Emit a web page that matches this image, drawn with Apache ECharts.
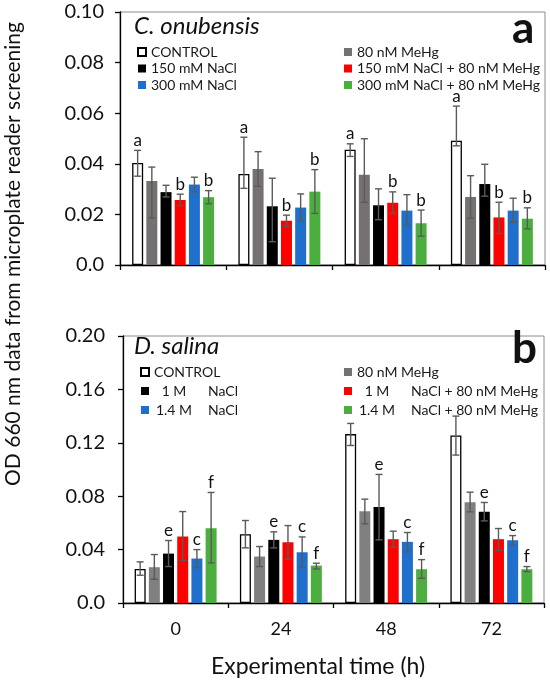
<!DOCTYPE html>
<html>
<head>
<meta charset="utf-8">
<script src="https://cdn.jsdelivr.net/npm/echarts@6/dist/echarts.min.js"></script>
<style>
html,body{margin:0;padding:0;background:#fff;}
#chart{width:550px;height:682px;}
</style>
</head>
<body>
<div id="chart"></div>
<script>
// ---------- DATA ----------
const categories = ['0', '24', '48', '72'];

// Panel a: C. onubensis
const topNames = ['CONTROL', '80 nM MeHg', '150 mM NaCl', '150 mM NaCl + 80 nM MeHg', '300 mM NaCl', '300 mM NaCl + 80 nM MeHg'];
const topControl   = [0.0403, 0.0360, 0.0456, 0.0491];
const topMeHg      = [0.0332, 0.0379, 0.0357, 0.0269];
const topNa150     = [0.0288, 0.0232, 0.0236, 0.0320];
const topNa150MeHg = [0.0257, 0.0175, 0.0246, 0.0188];
const topNa300     = [0.0318, 0.0227, 0.0215, 0.0215];
const topNa300MeHg = [0.0268, 0.0290, 0.0165, 0.0183];
const topControlHi   = [0.0453, 0.0505, 0.0479, 0.0628];
const topMeHgHi      = [0.0387, 0.0448, 0.0499, 0.0353];
const topNa150Hi     = [0.0315, 0.0343, 0.0301, 0.0398];
const topNa150MeHgHi = [0.0280, 0.0197, 0.0289, 0.0248];
const topNa300Hi     = [0.0347, 0.0281, 0.0278, 0.0264];
const topNa300MeHgHi = [0.0294, 0.0377, 0.0217, 0.0226];
const topControlLo   = [0.0351, 0.0303, 0.0429, 0.0471];
const topMeHgLo      = [0.0186, 0.0311, 0.0248, 0.0185];
const topNa150Lo     = [0.0269, 0.0092, 0.0179, 0.0272];
const topNa150MeHgLo = [0.0235, 0.0152, 0.0204, 0.0125];
const topNa300Lo     = [0.0289, 0.0173, 0.0156, 0.0169];
const topNa300MeHgLo = [0.0242, 0.0204, 0.0114, 0.0143];
const topLetters = ['a', '', '', 'b', '', 'b'];
const topTicks = [0, 0.02, 0.04, 0.06, 0.08, 0.10];

// Panel b: D. salina
const botNames = ['CONTROL', '80 nM MeHg', '1 M NaCl', '1 M NaCl + 80 nM MeHg', '1.4 M NaCl', '1.4 M NaCl + 80 nM MeHg'];
const botControl    = [0.0255, 0.0515, 0.1265, 0.1255];
const botMeHg       = [0.0268, 0.0348, 0.0688, 0.0755];
const botNa1        = [0.0370, 0.0473, 0.0720, 0.0683];
const botNa1MeHg    = [0.0498, 0.0455, 0.0478, 0.0478];
const botNa14       = [0.0333, 0.0380, 0.0458, 0.0470];
const botNa14MeHg   = [0.0560, 0.0280, 0.0253, 0.0253];
const botControlHi  = [0.0308, 0.0618, 0.1345, 0.1400];
const botMeHgHi     = [0.0363, 0.0423, 0.0778, 0.0830];
const botNa1Hi      = [0.0468, 0.0533, 0.0963, 0.0753];
const botNa1MeHgHi  = [0.0685, 0.0580, 0.0538, 0.0558];
const botNa14Hi     = [0.0400, 0.0495, 0.0528, 0.0505];
const botNa14MeHgHi = [0.0828, 0.0298, 0.0325, 0.0273];
const botControlLo  = [0.0208, 0.0413, 0.1180, 0.1108];
const botMeHgLo     = [0.0178, 0.0273, 0.0593, 0.0683];
const botNa1Lo      = [0.0273, 0.0413, 0.0473, 0.0615];
const botNa1MeHgLo  = [0.0318, 0.0328, 0.0418, 0.0395];
const botNa14Lo     = [0.0265, 0.0268, 0.0383, 0.0433];
const botNa14MeHgLo = [0.0300, 0.0255, 0.0185, 0.0235];
const botLetters = ['', '', 'e', '', 'c', 'f'];
const botTicks = [0, 0.04, 0.08, 0.12, 0.16, 0.20];

// ---------- STYLE ----------
const FONT = 'Lato';
const BAR_W = 11;
const BAR_GAP = 0.29;
const topColors = ['#ffffff', '#767171', '#000000', '#ff0000', '#1f6fcc', '#4cae3f'];
const botColors = ['#ffffff', '#808080', '#000000', '#ff0000', '#1f6fcc', '#4cae3f'];

const topMeans = [topControl, topMeHg, topNa150, topNa150MeHg, topNa300, topNa300MeHg];
const topHis = [topControlHi, topMeHgHi, topNa150Hi, topNa150MeHgHi, topNa300Hi, topNa300MeHgHi];
const topLos = [topControlLo, topMeHgLo, topNa150Lo, topNa150MeHgLo, topNa300Lo, topNa300MeHgLo];
const botMeans = [botControl, botMeHg, botNa1, botNa1MeHg, botNa14, botNa14MeHg];
const botHis = [botControlHi, botMeHgHi, botNa1Hi, botNa1MeHgHi, botNa14Hi, botNa14MeHgHi];
const botLos = [botControlLo, botMeHgLo, botNa1Lo, botNa1MeHgLo, botNa14Lo, botNa14MeHgLo];

function barSeries(names, means, colors, axisIdx) {
  return names.map((n, i) => ({
    type: 'bar', name: n, xAxisIndex: axisIdx, yAxisIndex: axisIdx,
    data: means[i], barWidth: BAR_W, barGap: (BAR_GAP * 100) + '%',
    itemStyle: i === 0 ? { color: colors[i], borderColor: '#000', borderWidth: 1.3 } : { color: colors[i] },
    emphasis: { disabled: true }, silent: true, z: 2
  }));
}

function errSeries(his, los, letters, axisIdx) {
  const data = [];
  his.forEach((arr, si) => arr.forEach((hi, ci) => {
    data.push([ci, si, los[si][ci], hi, letters[si]]);
  }));
  return {
    type: 'custom', xAxisIndex: axisIdx, yAxisIndex: axisIdx, z: 5, silent: true,
    encode: { x: 0, y: [2, 3] },
    data: data,
    renderItem: function (params, api) {
      const ci = api.value(0), si = api.value(1);
      const lo = api.coord([ci, api.value(2)]);
      const hi = api.coord([ci, api.value(3)]);
      const step = BAR_W * (1 + BAR_GAP);
      const x = lo[0] + (si - 2.5) * step;
      const cap = 3.5;
      const st = { stroke: '#5a5a5a', lineWidth: 1.4 };
      const children = [
        { type: 'line', shape: { x1: x, y1: lo[1], x2: x, y2: hi[1] }, style: st },
        { type: 'line', shape: { x1: x - cap, y1: lo[1], x2: x + cap, y2: lo[1] }, style: st },
        { type: 'line', shape: { x1: x - cap, y1: hi[1], x2: x + cap, y2: hi[1] }, style: st }
      ];
      const letter = data[params.dataIndex][4];
      if (letter) {
        children.push({ type: 'text', style: { text: letter, x: x, y: hi[1] - 10, align: 'center', verticalAlign: 'middle', font: '17px ' + FONT, fill: '#111' } });
      }
      return { type: 'group', children: children };
    }
  };
}

function legendFmt(name) {
  const m = name.match(/^([\d.]+ M) (.*)$/);
  if (m) return '{n|' + m[1] + '}{t|' + m[2] + '}';
  return '{p|' + name + '}';
}
const legendRich = {
  n: { width: 40, align: 'right', fontFamily: FONT, fontSize: 14, color: '#1a1a1a' },
  t: { padding: [0, 0, 0, 14], fontFamily: FONT, fontSize: 14, color: '#1a1a1a' },
  p: { fontFamily: FONT, fontSize: 14, color: '#1a1a1a' }
};
function legend(data, left, top, gap) {
  return {
    data: data, left: left, top: top, orient: 'vertical', padding: 0,
    itemGap: gap, itemWidth: 8, itemHeight: 8, icon: 'rect', selectedMode: false,
    formatter: legendFmt,
    textStyle: { fontFamily: FONT, fontSize: 14, color: '#1a1a1a', lineHeight: 14, rich: legendRich }
  };
}

function fmtTick(v) { return v === 0 ? '0.0' : v.toFixed(2); }

const chart = echarts.init(document.getElementById('chart'), null, { renderer: 'canvas' });
const option = {
  backgroundColor: '#fff',
  animation: false,
  textStyle: { fontFamily: FONT },
  grid: [
    { left: 120, top: 12, right: 5, height: 253, show: true, borderColor: '#8c8c8c', borderWidth: 1, backgroundColor: 'transparent' },
    { left: 123, top: 336, right: 6, height: 267, show: true, borderColor: '#8c8c8c', borderWidth: 1, backgroundColor: 'transparent' }
  ],
  xAxis: [
    { type: 'category', gridIndex: 0, data: categories, boundaryGap: true,
      axisLine: { lineStyle: { color: '#000', width: 1.3 } },
      axisTick: { show: true, alignWithLabel: false, length: 5, lineStyle: { color: '#000', width: 1.3 } },
      axisLabel: { show: false } },
    { type: 'category', gridIndex: 1, data: categories, boundaryGap: true,
      axisLine: { lineStyle: { color: '#000', width: 1.3 } },
      axisTick: { show: true, alignWithLabel: false, length: 5, lineStyle: { color: '#000', width: 1.3 } },
      axisLabel: { margin: 17, fontSize: 18, color: '#111', fontFamily: FONT } }
  ],
  yAxis: [
    { type: 'value', gridIndex: 0, min: topTicks[0], max: topTicks[topTicks.length - 1], interval: topTicks[1] - topTicks[0],
      axisLine: { show: true, lineStyle: { color: '#000', width: 1.3 } },
      axisTick: { show: true, length: 5, lineStyle: { color: '#000', width: 1.3 } },
      splitLine: { show: false },
      axisLabel: { formatter: fmtTick, fontSize: 20, color: '#111', margin: 16, fontFamily: FONT } },
    { type: 'value', gridIndex: 1, min: botTicks[0], max: botTicks[botTicks.length - 1], interval: botTicks[1] - botTicks[0],
      axisLine: { show: true, lineStyle: { color: '#000', width: 1.3 } },
      axisTick: { show: true, length: 5, lineStyle: { color: '#000', width: 1.3 } },
      splitLine: { show: false },
      axisLabel: { formatter: fmtTick, fontSize: 20, color: '#111', margin: 18, fontFamily: FONT } }
  ],
  legend: [
    legend([topNames[0], topNames[2], topNames[4]], 137, 45, 2.5),
    legend([topNames[1], topNames[3], topNames[5]], 344, 45, 2.5),
    legend([botNames[0], botNames[2], botNames[4]], 140, 365, 5),
    legend([botNames[1], botNames[3], botNames[5]], 344, 365, 5)
  ],
  series: [].concat(
    barSeries(topNames, topMeans, topColors, 0),
    [errSeries(topHis, topLos, topLetters, 0)],
    barSeries(botNames, botMeans, botColors, 1),
    [errSeries(botHis, botLos, botLetters, 1)]
  ),
  graphic: [
    { type: 'text', left: 134, top: 14, style: { text: 'C. onubensis', font: 'italic 24px ' + FONT, fill: '#111' } },
    { type: 'text', left: 512, top: 7, style: { text: 'a', font: 'bold 44px ' + FONT, fill: '#111' } },
    { type: 'text', left: 134, top: 334, style: { text: 'D. salina', font: 'italic 24px ' + FONT, fill: '#111' } },
    { type: 'text', left: 512, top: 327, style: { text: 'b', font: 'bold 44px ' + FONT, fill: '#111' } },
    { type: 'text', x: 318, y: 667, style: { text: 'Experimental time (h)', font: '23px ' + FONT, fill: '#111', align: 'center', verticalAlign: 'middle' } },
    { type: 'text', x: 13, y: 254, rotation: Math.PI / 2, style: { text: 'OD 660 nm data from microplate reader screening', font: '21px ' + FONT, fill: '#111', align: 'center', verticalAlign: 'middle' } }
  ]
};
chart.setOption(option);
</script>
</body>
</html>
